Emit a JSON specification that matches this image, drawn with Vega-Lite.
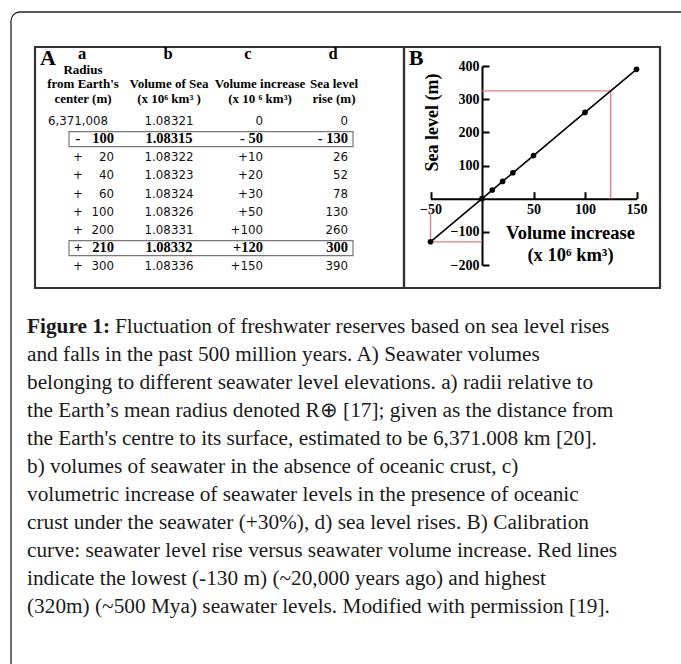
{
  "$schema": "https://vega.github.io/schema/vega-lite/v6.json",
  "width": 681,
  "height": 664,
  "autosize": {"type": "none"},
  "padding": 0,
  "background": "white",
  "config": {"view": {"stroke": null}},
  "datasets": {
    "header": [
      {"kind": "panel", "col": 0, "line": 0, "text": "A"},
      {"kind": "panel", "col": 5, "line": 0, "text": "B"},
      {"kind": "letter", "col": 1, "line": 0, "text": "a"},
      {"kind": "letter", "col": 2, "line": 0, "text": "b"},
      {"kind": "letter", "col": 3, "line": 0, "text": "c"},
      {"kind": "letter", "col": 4, "line": 0, "text": "d"},
      {"kind": "head", "col": 1, "line": 1, "text": "Radius"},
      {"kind": "head", "col": 1, "line": 2, "text": "from Earth's"},
      {"kind": "head", "col": 1, "line": 3, "text": "center (m)"},
      {"kind": "head", "col": 2, "line": 2, "text": "Volume of Sea"},
      {"kind": "head", "col": 2, "line": 3, "text": "(x 10⁶ km³ )"},
      {"kind": "head", "col": 3, "line": 2, "text": "Volume increase"},
      {"kind": "head", "col": 3, "line": 3, "text": "(x 10 ⁶ km³)"},
      {"kind": "head", "col": 4, "line": 2, "text": "Sea level"},
      {"kind": "head", "col": 4, "line": 3, "text": "rise (m)"}
    ],
    "table": [
      {"row": 0, "col": 0, "bold": false, "text": "6,371,008"},
      {"row": 0, "col": 2, "bold": false, "text": "1.08321"},
      {"row": 0, "col": 3, "bold": false, "text": "0"},
      {"row": 0, "col": 4, "bold": false, "text": "0"},
      {"row": 1, "col": 0, "bold": true, "text": "-"},
      {"row": 1, "col": 1, "bold": true, "text": "100"},
      {"row": 1, "col": 2, "bold": true, "text": "1.08315"},
      {"row": 1, "col": 3, "bold": true, "text": "- 50"},
      {"row": 1, "col": 4, "bold": true, "text": "- 130"},
      {"row": 2, "col": 0, "bold": false, "text": "+"},
      {"row": 2, "col": 1, "bold": false, "text": "20"},
      {"row": 2, "col": 2, "bold": false, "text": "1.08322"},
      {"row": 2, "col": 3, "bold": false, "text": "+10"},
      {"row": 2, "col": 4, "bold": false, "text": "26"},
      {"row": 3, "col": 0, "bold": false, "text": "+"},
      {"row": 3, "col": 1, "bold": false, "text": "40"},
      {"row": 3, "col": 2, "bold": false, "text": "1.08323"},
      {"row": 3, "col": 3, "bold": false, "text": "+20"},
      {"row": 3, "col": 4, "bold": false, "text": "52"},
      {"row": 4, "col": 0, "bold": false, "text": "+"},
      {"row": 4, "col": 1, "bold": false, "text": "60"},
      {"row": 4, "col": 2, "bold": false, "text": "1.08324"},
      {"row": 4, "col": 3, "bold": false, "text": "+30"},
      {"row": 4, "col": 4, "bold": false, "text": "78"},
      {"row": 5, "col": 0, "bold": false, "text": "+"},
      {"row": 5, "col": 1, "bold": false, "text": "100"},
      {"row": 5, "col": 2, "bold": false, "text": "1.08326"},
      {"row": 5, "col": 3, "bold": false, "text": "+50"},
      {"row": 5, "col": 4, "bold": false, "text": "130"},
      {"row": 6, "col": 0, "bold": false, "text": "+"},
      {"row": 6, "col": 1, "bold": false, "text": "200"},
      {"row": 6, "col": 2, "bold": false, "text": "1.08331"},
      {"row": 6, "col": 3, "bold": false, "text": "+100"},
      {"row": 6, "col": 4, "bold": false, "text": "260"},
      {"row": 7, "col": 0, "bold": true, "text": "+"},
      {"row": 7, "col": 1, "bold": true, "text": "210"},
      {"row": 7, "col": 2, "bold": true, "text": "1.08332"},
      {"row": 7, "col": 3, "bold": true, "text": "+120"},
      {"row": 7, "col": 4, "bold": true, "text": "300"},
      {"row": 8, "col": 0, "bold": false, "text": "+"},
      {"row": 8, "col": 1, "bold": false, "text": "300"},
      {"row": 8, "col": 2, "bold": false, "text": "1.08336"},
      {"row": 8, "col": 3, "bold": false, "text": "+150"},
      {"row": 8, "col": 4, "bold": false, "text": "390"}
    ],
    "calib": [
      {"vol": -50, "sea": -130},
      {"vol": 0, "sea": 0},
      {"vol": 10, "sea": 26},
      {"vol": 20, "sea": 52},
      {"vol": 30, "sea": 78},
      {"vol": 50, "sea": 130},
      {"vol": 100, "sea": 260},
      {"vol": 150, "sea": 390}
    ],
    "redlines": [
      {"vol": -50, "vol_end": 0, "sea": -130, "sea_end": -130},
      {"vol": -50, "vol_end": -50, "sea": -130, "sea_end": -42},
      {"vol": 0, "vol_end": 125, "sea": 325, "sea_end": 325},
      {"vol": 125, "vol_end": 125, "sea": 0, "sea_end": 325}
    ],
    "caption": [
      {"line": 1, "part": "label", "text": "Figure 1:"},
      {"line": 1, "part": "body", "text": "Fluctuation of freshwater reserves based on sea level rises"},
      {"line": 2, "part": "body", "text": "and falls in the past 500 million years. A) Seawater volumes"},
      {"line": 3, "part": "body", "text": "belonging to different seawater level elevations. a) radii relative to"},
      {"line": 4, "part": "body", "text": "the Earth’s mean radius denoted R⊕ [17]; given as the distance from"},
      {"line": 5, "part": "body", "text": "the Earth's centre to its surface, estimated to be 6,371.008 km [20]."},
      {"line": 6, "part": "body", "text": "b) volumes of seawater in the absence of oceanic crust, c)"},
      {"line": 7, "part": "body", "text": "volumetric increase of seawater levels in the presence of oceanic"},
      {"line": 8, "part": "body", "text": "crust under the seawater (+30%), d) sea level rises. B) Calibration"},
      {"line": 9, "part": "body", "text": "curve: seawater level rise versus seawater volume increase. Red lines"},
      {"line": 10, "part": "body", "text": "indicate the lowest (-130 m) (~20,000 years ago) and highest"},
      {"line": 11, "part": "body", "text": "(320m) (~500 Mya) seawater levels. Modified with permission [19]."}
    ]
  },
  "resolve": {
    "scale": {"x": "independent", "y": "independent"},
    "axis": {"x": "independent", "y": "independent"}
  },
  "layer": [
    {
      "data": {"values": [{"item": "card"}]},
      "mark": {"type": "rect", "fill": "white", "fillOpacity": 0, "stroke": "#222222", "strokeWidth": 1.3, "cornerRadius": 9, "clip": true},
      "encoding": {
        "x": {"datum": 0, "type": "quantitative", "scale": {"domain": [0, 1], "range": [11, 720], "nice": false, "zero": false}, "axis": null},
        "x2": {"datum": 1},
        "y": {"datum": 0, "type": "quantitative", "scale": {"domain": [0, 1], "range": [12, 720], "nice": false, "zero": false}, "axis": null},
        "y2": {"datum": 1}
      }
    },
    {
      "data": {"values": [{"panel": "A"}]},
      "mark": {"type": "rect", "fill": "white", "fillOpacity": 0, "stroke": "#333333", "strokeWidth": 2.2},
      "encoding": {
        "x": {"datum": 0, "type": "quantitative", "scale": {"domain": [0, 1], "range": [35, 404], "nice": false, "zero": false}, "axis": null},
        "x2": {"datum": 1},
        "y": {"datum": 0, "type": "quantitative", "scale": {"domain": [0, 1], "range": [47, 288], "nice": false, "zero": false}, "axis": null},
        "y2": {"datum": 1}
      }
    },
    {
      "data": {"values": [{"panel": "B"}]},
      "mark": {"type": "rect", "fill": "white", "fillOpacity": 0, "stroke": "#333333", "strokeWidth": 2.2},
      "encoding": {
        "x": {"datum": 0, "type": "quantitative", "scale": {"domain": [0, 1], "range": [404, 660], "nice": false, "zero": false}, "axis": null},
        "x2": {"datum": 1},
        "y": {"datum": 0, "type": "quantitative", "scale": {"domain": [0, 1], "range": [47, 288], "nice": false, "zero": false}, "axis": null},
        "y2": {"datum": 1}
      }
    },
    {
      "data": {"name": "header"},
      "encoding": {
        "x": {"field": "col", "type": "quantitative", "scale": {"domain": [0, 1, 2, 3, 4, 5], "range": [48, 83, 169, 260, 334, 416], "nice": false, "zero": false}, "axis": null},
        "y": {"field": "line", "type": "quantitative", "scale": {"domain": [0, 3], "range": [59, 102.5], "nice": false, "zero": false}, "axis": null},
        "text": {"field": "text"}
      },
      "layer": [
        {
          "transform": [{"filter": "datum.kind == 'panel'"}],
          "mark": {"type": "text", "font": "Liberation Serif", "fontWeight": "bold", "fontSize": 22, "align": "center", "baseline": "alphabetic", "dy": 6, "color": "black"}
        },
        {
          "transform": [{"filter": "datum.kind == 'letter' && datum.col != 3"}],
          "mark": {"type": "text", "font": "Liberation Serif", "fontWeight": "bold", "fontSize": 16.5, "align": "center", "baseline": "alphabetic", "dx": -1, "color": "black"}
        },
        {
          "transform": [{"filter": "datum.kind == 'letter' && datum.col == 3"}],
          "mark": {"type": "text", "font": "Liberation Serif", "fontWeight": "bold", "fontSize": 16.5, "align": "center", "baseline": "alphabetic", "dx": -12, "color": "black"}
        },
        {
          "transform": [{"filter": "datum.kind == 'head'"}],
          "mark": {"type": "text", "font": "Liberation Serif", "fontWeight": "bold", "fontSize": 13, "align": "center", "baseline": "alphabetic", "color": "black"}
        }
      ]
    },
    {
      "data": {"name": "table"},
      "encoding": {
        "x": {"field": "col", "type": "quantitative", "scale": {"domain": [0, 1, 2, 3, 4], "range": [78, 114, 169, 263, 348], "nice": false, "zero": false}, "axis": null},
        "y": {"field": "row", "type": "quantitative", "scale": {"domain": [0, 8], "range": [121, 266.2], "nice": false, "zero": false}, "axis": null}
      },
      "layer": [
        {
          "data": {"values": [{"item": "header rule"}]},
          "mark": {"type": "rule", "color": "#222222", "strokeWidth": 2, "xOffset": -26, "x2Offset": 30, "yOffset": -10.3},
          "encoding": {"x": {"datum": 0}, "x2": {"datum": 4}, "y": {"datum": 0}}
        },
        {
          "transform": [{"filter": "datum.bold && datum.col == 0"}],
          "mark": {"type": "rect", "fill": "white", "fillOpacity": 0, "stroke": "#777777", "strokeWidth": 1.2, "xOffset": -9, "x2Offset": 5, "yOffset": -7.5, "y2Offset": 7.5},
          "encoding": {"x": {"datum": 0}, "x2": {"datum": 4}, "y2": {"field": "row"}}
        },
        {
          "transform": [{"filter": "!datum.bold && (datum.col == 0 || datum.col == 2)"}],
          "mark": {"type": "text", "font": "DejaVu Sans", "fontSize": 11.8, "align": "center", "baseline": "middle", "color": "#111111"},
          "encoding": {"text": {"field": "text"}}
        },
        {
          "transform": [{"filter": "!datum.bold && datum.col != 0 && datum.col != 2"}],
          "mark": {"type": "text", "font": "DejaVu Sans", "fontSize": 11.8, "align": "right", "baseline": "middle", "color": "#111111"},
          "encoding": {"text": {"field": "text"}}
        },
        {
          "transform": [{"filter": "datum.bold && (datum.col == 0 || datum.col == 2)"}],
          "mark": {"type": "text", "font": "Liberation Serif", "fontWeight": "bold", "fontSize": 14.5, "align": "center", "baseline": "middle", "color": "black"},
          "encoding": {"text": {"field": "text"}}
        },
        {
          "transform": [{"filter": "datum.bold && datum.col != 0 && datum.col != 2"}],
          "mark": {"type": "text", "font": "Liberation Serif", "fontWeight": "bold", "fontSize": 14.5, "align": "right", "baseline": "middle", "color": "black"},
          "encoding": {"text": {"field": "text"}}
        }
      ]
    },
    {
      "encoding": {
        "x": {
          "field": "vol", "type": "quantitative",
          "scale": {"domain": [-50, 150], "range": [430.5, 636.5], "nice": false, "zero": false},
          "axis": {
            "orient": "bottom", "offset": -465.3, "values": [-50, 50, 100, 150],
            "grid": false, "domainColor": "black", "domainWidth": 2,
            "ticks": true, "tickSize": -7, "tickWidth": 2, "tickColor": "black",
            "labelFont": "Liberation Serif", "labelFontWeight": "bold", "labelFontSize": 14, "labelColor": "black",
            "labelPadding": 11, "labelFlush": false, "labelOverlap": false, "labelBaseline": "top",
            "title": ["Volume increase", "(x 10⁶ km³)"],
            "titleFont": "Liberation Serif", "titleFontWeight": "bold", "titleFontSize": 18.5, "titleColor": "black",
            "titleX": 570, "titleY": 33.3, "titleAlign": "center", "titleBaseline": "middle", "titleLineHeight": 22, "titleAngle": 0
          }
        },
        "y": {
          "field": "sea", "type": "quantitative",
          "scale": {"domain": [-200, 400], "range": [265, 66], "nice": false, "zero": false},
          "axis": {
            "orient": "left", "offset": -482, "values": [-200, -100, 100, 200, 300, 400],
            "grid": false, "domainColor": "black", "domainWidth": 2,
            "ticks": true, "tickSize": -7, "tickWidth": 2, "tickColor": "black",
            "labelFont": "Liberation Serif", "labelFontWeight": "bold", "labelFontSize": 14, "labelColor": "black",
            "labelPadding": 10, "labelFlush": false, "labelOverlap": false,
            "title": "Sea level (m)",
            "titleFont": "Liberation Serif", "titleFontWeight": "bold", "titleFontSize": 18, "titleColor": "black",
            "titleX": -50, "titleY": 122, "titleAlign": "center", "titleBaseline": "middle", "titleAngle": -90
          }
        }
      },
      "layer": [
        {
          "data": {"name": "redlines"},
          "mark": {"type": "rule", "color": "#e8787f", "strokeWidth": 1.3},
          "encoding": {"x2": {"field": "vol_end"}, "y2": {"field": "sea_end"}}
        },
        {
          "data": {"name": "calib"},
          "mark": {"type": "line", "color": "black", "strokeWidth": 1.6}
        },
        {
          "data": {"name": "calib"},
          "mark": {"type": "point", "filled": true, "color": "black", "size": 32, "opacity": 1}
        }
      ]
    },
    {
      "data": {"name": "caption"},
      "encoding": {
        "x": {"datum": 0, "type": "quantitative", "scale": {"domain": [0, 1], "range": [27, 654], "nice": false, "zero": false}, "axis": null},
        "y": {"field": "line", "type": "quantitative", "scale": {"domain": [1, 11], "range": [327, 607], "nice": false, "zero": false}, "axis": null},
        "text": {"field": "text"}
      },
      "layer": [
        {
          "transform": [{"filter": "datum.part == 'label'"}],
          "mark": {"type": "text", "font": "Liberation Serif", "fontWeight": "bold", "fontSize": 21.3, "align": "left", "baseline": "middle", "color": "#1a1a1a"}
        },
        {
          "transform": [{"filter": "datum.part == 'body' && datum.line == 1"}],
          "mark": {"type": "text", "font": "Liberation Serif", "fontSize": 21.3, "align": "left", "baseline": "middle", "dx": 88, "color": "#1a1a1a"}
        },
        {
          "transform": [{"filter": "datum.part == 'body' && datum.line > 1"}],
          "mark": {"type": "text", "font": "Liberation Serif", "fontSize": 21.3, "align": "left", "baseline": "middle", "color": "#1a1a1a"}
        }
      ]
    }
  ]
}
